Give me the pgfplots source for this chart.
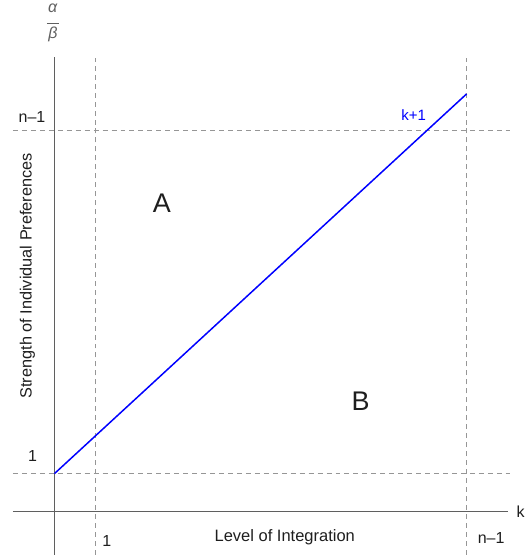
\documentclass[border=0pt]{standalone}
\usepackage{pgfplots}
\pgfplotsset{compat=1.18}
\usepackage{fontspec}
\setmainfont{Liberation Sans}
\definecolor{axgray}{RGB}{95,95,95}
\definecolor{dashgray}{RGB}{150,150,150}
\definecolor{txt}{RGB}{30,30,30}
\begin{document}
\begin{tikzpicture}
\begin{axis}[
  scale only axis,
  width=495bp, height=498bp,
  xmin=-41.5, xmax=453.5, ymin=-43, ymax=455,
  axis lines=middle,
  axis line style={-, axgray, line width=0.9pt},
  xtick=\empty, ytick=\empty,
  clip=false,
]
% dashed guide lines
\addplot[dashgray, dash pattern=on 5pt off 4pt, line width=0.8pt] coordinates {(-41.5,38) (456,38)};
\addplot[dashgray, dash pattern=on 5pt off 4pt, line width=0.8pt] coordinates {(-41.5,381) (456,381)};
\addplot[dashgray, dash pattern=on 5pt off 4pt, line width=0.8pt] coordinates {(41,-43) (41,454)};
\addplot[dashgray, dash pattern=on 5pt off 4pt, line width=0.8pt] coordinates {(412.5,-43) (412.5,454)};
% k+1 line
\addplot[blue, line width=1.5pt] coordinates {(0,38) (412.5,418)};
% labels
\node[text=txt, font=\fontsize{16bp}{18bp}\selectfont] at (axis cs:-22.5,395) {n–1};
\node[text=txt, font=\fontsize{16bp}{18bp}\selectfont] at (axis cs:-22,56) {1};
\node[text=txt, font=\fontsize{16bp}{18bp}\selectfont] at (axis cs:52.5,-29) {1};
\node[text=txt, font=\fontsize{16bp}{18bp}\selectfont] at (axis cs:437,-26) {n–1};
\node[text=txt, font=\fontsize{16bp}{18bp}\selectfont] at (axis cs:466.5,0) {k};
\node[font=\fontsize{15bp}{17bp}\selectfont, text=blue] at (axis cs:359.5,397) {k+1};
\node[text=txt, font=\fontsize{16.5bp}{19bp}\selectfont] at (axis cs:230.5,-26) {Level of Integration};
\node[text=txt, font=\fontsize{16.3bp}{19bp}\selectfont, rotate=90] at (axis cs:-27,236) {Strength of Individual Preferences};
\node[text=txt, font=\fontsize{27bp}{30bp}\selectfont] at (axis cs:107.5,309) {A};
\node[text=txt, font=\fontsize{27bp}{30bp}\selectfont] at (axis cs:306.5,110) {B};
% alpha over beta
\node[font=\fontsize{16bp}{18bp}\selectfont, text=axgray, anchor=base, inner sep=0pt] at (axis cs:-1.5,499) {\textit{α}};
\node[inner sep=0pt, text=axgray] at (axis cs:-1.5,489) {\rule{12bp}{0.9bp}};
\node[font=\fontsize{16bp}{18bp}\selectfont, text=axgray, anchor=base, inner sep=0pt] at (axis cs:-1.5,473) {\textit{β}};
\coordinate (tl) at (axis cs:-54.5,512);
\coordinate (br) at (axis cs:476.5,-43);
\end{axis}
\path (tl) rectangle (br);
\end{tikzpicture}
\end{document}
